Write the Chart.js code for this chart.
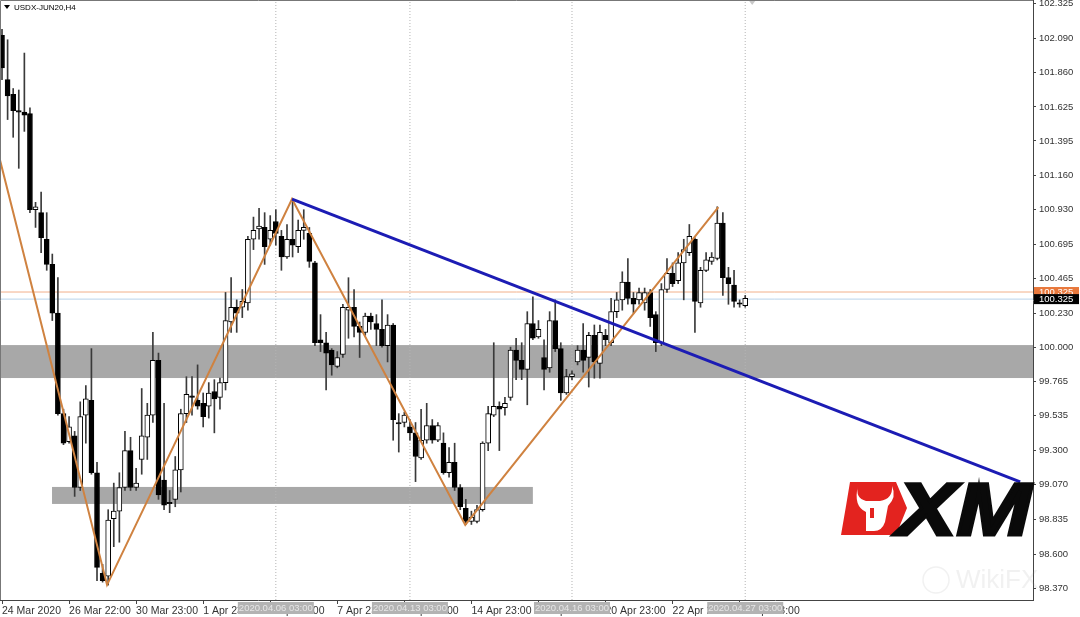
<!DOCTYPE html>
<html>
<head>
<meta charset="utf-8">
<script src="https://cdn.jsdelivr.net/npm/chart.js@4.4.1/dist/chart.umd.min.js"></script>
<style>
  html, body { margin: 0; padding: 0; background: #fff; }
  canvas { display: block; }
</style>
</head>
<body>
<canvas id="c" width="1080" height="617"></canvas>
<script>
// USDX-JUN20, H4 candles (bar index 0 = 24 Mar 2020)
const opens = [
  102.11, 101.81, 101.71, 101.60, 101.59, 101.58, 100.93, 100.91, 100.73, 100.56,
  100.23, 99.55, 99.36, 99.40, 99.05, 99.54, 99.64, 99.15, 98.47, 98.45,
  98.84, 98.89, 99.05, 99.30, 99.05, 99.24, 99.39, 99.54, 99.91, 99.10,
  98.95, 98.97, 99.17, 99.55, 99.67, 99.64, 99.62, 99.60, 99.70, 99.66,
  99.76, 100.17, 100.27, 100.27, 100.30, 100.73, 100.80, 100.81, 100.73, 100.85,
  100.75, 100.61, 100.73, 100.68, 100.79, 100.77, 100.57, 100.05, 100.03, 99.98,
  99.87, 99.95, 100.25, 100.27, 100.14, 100.10, 100.21, 100.16, 100.12, 100.01,
  100.15, 99.49, 99.49, 99.46, 99.42, 99.25, 99.37, 99.47, 99.37, 99.35,
  99.15, 99.22, 99.05, 98.91, 98.82, 98.82, 98.90, 99.35, 99.54, 99.60,
  99.59, 99.66, 99.98, 99.91, 99.85, 100.16, 100.07, 99.93, 99.86, 100.18,
  99.99, 99.69, 99.80, 99.90, 99.98, 99.93, 100.08, 99.89, 100.08, 100.03,
  100.24, 100.32, 100.44, 100.33, 100.32, 100.30, 100.37, 100.22, 100.03, 100.39,
  100.50, 100.45, 100.57, 100.64, 100.73, 100.30, 100.52, 100.58, 100.60, 100.84,
  100.47, 100.42, 100.30, 100.28
];
const highs = [
  102.15, 102.08, 101.75, 101.74, 101.99, 101.62, 100.98, 101.05, 100.91, 100.63,
  100.47, 99.58, 99.53, 99.43, 99.63, 99.74, 99.99, 99.22, 98.53, 98.90,
  99.08, 99.15, 99.43, 99.39, 99.18, 99.72, 99.62, 100.10, 99.96, 99.62,
  99.03, 99.26, 99.58, 99.80, 99.80, 99.88, 99.69, 99.76, 99.78, 99.79,
  100.37, 100.47, 100.32, 100.39, 100.75, 100.88, 100.94, 100.91, 100.89, 100.93,
  100.79, 100.83, 101.00, 100.86, 100.93, 100.81, 100.58, 100.22, 100.10, 99.99,
  99.97, 100.29, 100.47, 100.39, 100.17, 100.23, 100.23, 100.22, 100.32, 100.22,
  100.16, 99.55, 99.56, 99.51, 99.49, 99.58, 99.62, 99.51, 99.49, 99.42,
  99.32, 99.35, 99.07, 98.97, 98.89, 98.93, 99.36, 99.60, 100.03, 99.63,
  99.66, 100.00, 100.06, 100.03, 100.24, 100.34, 100.18, 100.05, 100.24, 100.32,
  100.03, 99.85, 99.84, 100.01, 100.16, 100.10, 100.15, 100.15, 100.12, 100.33,
  100.37, 100.51, 100.60, 100.37, 100.40, 100.40, 100.39, 100.24, 100.43, 100.60,
  100.57, 100.64, 100.73, 100.83, 100.74, 100.54, 100.64, 100.64, 100.95, 100.91,
  100.54, 100.52, 100.32, 100.35
];
const lows = [
  101.81, 101.54, 101.42, 101.21, 101.46, 100.91, 100.81, 100.64, 100.52, 100.18,
  99.54, 99.34, 99.35, 98.99, 99.03, 99.35, 99.14, 98.42, 98.41, 98.39,
  98.65, 98.68, 99.03, 99.03, 99.03, 99.14, 99.24, 99.49, 98.97, 98.90,
  98.88, 98.92, 99.02, 99.49, 99.54, 99.58, 99.46, 99.52, 99.42, 99.58,
  99.71, 100.10, 100.10, 100.20, 100.25, 100.66, 100.73, 100.56, 100.69, 100.69,
  100.52, 100.60, 100.61, 100.64, 100.73, 100.54, 100.01, 99.97, 99.71, 99.81,
  99.86, 99.93, 100.06, 100.07, 99.93, 100.08, 100.12, 100.01, 100.00, 99.90,
  99.37, 99.29, 99.46, 99.37, 99.09, 99.24, 99.35, 99.35, 99.36, 99.14,
  99.12, 99.03, 98.90, 98.80, 98.80, 98.81, 98.89, 99.30, 99.53, 99.30,
  99.54, 99.64, 99.78, 99.78, 99.61, 100.05, 100.06, 99.71, 99.83, 99.97,
  99.64, 99.68, 99.78, 99.88, 99.83, 99.73, 99.79, 99.79, 100.01, 100.01,
  100.20, 100.25, 100.29, 100.23, 100.29, 100.25, 100.14, 99.97, 100.01, 100.37,
  100.41, 100.43, 100.32, 100.62, 100.10, 100.27, 100.51, 100.56, 100.59, 100.35,
  100.29, 100.27, 100.27, 100.27
];
const closes = [
  101.89, 101.70, 101.60, 101.59, 101.57, 100.93, 100.95, 100.74, 100.56, 100.23,
  99.55, 99.35, 99.46, 99.05, 99.53, 99.65, 99.15, 98.51, 98.42, 98.83,
  98.89, 99.05, 99.30, 99.05, 99.08, 99.40, 99.54, 99.91, 99.00, 98.93,
  98.94, 99.17, 99.55, 99.68, 99.66, 99.60, 99.53, 99.69, 99.65, 99.76,
  100.18, 100.27, 100.23, 100.31, 100.73, 100.79, 100.82, 100.68, 100.79, 100.77,
  100.61, 100.73, 100.69, 100.79, 100.81, 100.58, 100.03, 100.03, 99.96, 99.88,
  99.93, 100.27, 100.27, 100.14, 100.10, 100.21, 100.17, 100.12, 100.01, 100.15,
  99.51, 99.48, 99.54, 99.42, 99.26, 99.37, 99.47, 99.37, 99.47, 99.15,
  99.22, 99.05, 98.92, 98.82, 98.85, 98.90, 99.35, 99.55, 99.60, 99.58,
  99.62, 99.98, 99.91, 99.85, 100.16, 100.06, 100.12, 99.85, 100.18, 99.99,
  99.69, 99.80, 99.82, 99.98, 99.91, 100.08, 99.90, 100.10, 100.05, 100.24,
  100.32, 100.44, 100.33, 100.29, 100.37, 100.37, 100.20, 100.03, 100.39, 100.50,
  100.43, 100.57, 100.66, 100.75, 100.31, 100.52, 100.59, 100.61, 100.84, 100.47,
  100.43, 100.31, 100.29, 100.33
];

// axes
const yTicks = [102.325, 102.090, 101.860, 101.625, 101.395, 101.160, 100.930, 100.695, 100.465,
  100.230, 100.000, 99.765, 99.535, 99.300, 99.070, 98.835, 98.600, 98.370];
const xTickIdx = [0, 12, 24, 36, 48, 60, 72, 84, 96, 108, 120, 132];
const xTickLabels = ['24 Mar 2020', '26 Mar 22:00', '30 Mar 23:00', '1 Apr 23:00', '3 Apr 23:00',
  '7 Apr 23:00', '9 Apr 23:00', '14 Apr 23:00', '16 Apr 23:00', '20 Apr 23:00', '22 Apr 23:00', '24 Apr 23:00'];
const yMin = 98.289, yMax = 102.349;
const xMin = -0.36, xMax = 184.5;

// drawings on the chart
const zigX = [-0.36, 18.8, 51.9, 82.9, 128.2];
const zigY = [101.266, 98.391, 101.002, 98.797, 100.948];
const trendX = [51.9, 182.2];
const trendY = [101.002, 99.088];
const zoneFrom = [-0.36, 8.95];
const zoneTo = [184.5, 95.0];
const zoneHigh = [100.014, 99.054];
const zoneLow = [99.791, 98.939];
const vLineIdx = [49, 73, 102, 133];
const vLineLabels = ['2020.04.06 03:00', '2020.04.13 03:00', '2020.04.16 03:00', '2020.04.27 03:00'];
const priceLevels = [100.373, 100.325];
const priceLabels = ['100.325', '100.325'];
const priceColors = ['#e8783c', '#000000'];
const levelLineColors = ['#f2b08a', '#b9d3ea'];

const FONT = '"Liberation Sans", Arial, sans-serif';

const wickData = highs.map((h, i) => ({ x: i, y: [lows[i], h] }));
const bodyData = opens.map((o, i) => ({ x: i, y: [o, closes[i]] }));

const datasets = [
  {
    type: 'line', order: 1,
    data: trendX.map((x, i) => ({ x: x, y: trendY[i] })),
    borderColor: '#1c1cb4', borderWidth: 3, pointRadius: 0, tension: 0
  },
  {
    type: 'line', order: 2,
    data: zigX.map((x, i) => ({ x: x, y: zigY[i] })),
    borderColor: '#cf8240', borderWidth: 2, pointRadius: 0, tension: 0
  },
  {
    type: 'bar', order: 4, grouped: false,
    data: bodyData,
    barThickness: 5, minBarLength: 1,
    backgroundColor: ctx => {
      const i = ctx.dataIndex;
      return closes[i] >= opens[i] ? '#ffffff' : '#000000';
    },
    borderColor: '#000000', borderWidth: 1, borderSkipped: false
  },
  {
    type: 'bar', order: 5, grouped: false,
    data: wickData,
    barThickness: 1,
    backgroundColor: '#3a3a3a', borderWidth: 0
  }
];

priceLevels.forEach((lv, k) => {
  datasets.push({
    type: 'line', order: 6,
    data: [{ x: xMin, y: lv }, { x: xMax, y: lv }],
    borderColor: levelLineColors[k], borderWidth: 1, pointRadius: 0
  });
});
vLineIdx.forEach(idx => {
  datasets.push({
    type: 'line', order: 7,
    data: [{ x: idx, y: yMin }, { x: idx, y: yMax }],
    borderColor: '#b4b4b4', borderWidth: 1, borderDash: [1, 2], pointRadius: 0
  });
});

const decor = {
  id: 'decor',
  beforeDatasetsDraw(chart) {
    const { ctx, chartArea: a, scales: { x, y } } = chart;
    ctx.save();
    ctx.beginPath();
    ctx.rect(a.left, a.top, a.width, a.height);
    ctx.clip();
    ctx.fillStyle = '#a8a8a8';
    zoneFrom.forEach((f, k) => {
      const x0 = x.getPixelForValue(f), x1 = x.getPixelForValue(zoneTo[k]);
      const y0 = y.getPixelForValue(zoneHigh[k]), y1 = y.getPixelForValue(zoneLow[k]);
      ctx.fillRect(x0, y0, x1 - x0, y1 - y0);
    });
    ctx.restore();
  },
  afterDraw(chart) {
    const { ctx, chartArea: a, scales: { x, y } } = chart;
    ctx.save();

    // frame (left + top)
    ctx.strokeStyle = '#777';
    ctx.lineWidth = 1;
    ctx.beginPath();
    ctx.moveTo(a.left + 0.5, a.bottom);
    ctx.lineTo(a.left + 0.5, a.top + 0.5);
    ctx.lineTo(a.right, a.top + 0.5);
    ctx.stroke();

    // title
    ctx.fillStyle = '#000';
    ctx.beginPath();
    ctx.moveTo(4, 5); ctx.lineTo(10, 5); ctx.lineTo(7, 9); ctx.closePath();
    ctx.fill();
    ctx.font = '8px ' + FONT;
    ctx.textBaseline = 'middle';
    ctx.textAlign = 'left';
    ctx.fillText('USDX-JUN20,H4', 14, 7.5);

    // small marker at top of last bar
    ctx.fillStyle = '#c8c8c8';
    ctx.beginPath();
    const mx = x.getPixelForValue(vLineIdx[vLineIdx.length - 1]) + 7;
    ctx.moveTo(mx - 3, 1); ctx.lineTo(mx + 3, 1); ctx.lineTo(mx, 5); ctx.closePath();
    ctx.fill();

    // price labels on the right axis
    ctx.font = '9.5px ' + FONT;
    priceLevels.forEach((lv, k) => {
      const py = y.getPixelForValue(lv);
      ctx.fillStyle = priceColors[k];
      ctx.fillRect(a.right + 1, py - 5, 45, 10);
      ctx.fillStyle = '#fff';
      ctx.fillText(priceLabels[k], a.right + 6, py + 0.5);
    });

    // vertical line date labels on the time axis
    ctx.font = '9.5px ' + FONT;
    ctx.textAlign = 'center';
    vLineIdx.forEach((idx, k) => {
      const px = x.getPixelForValue(idx);
      ctx.fillStyle = '#b3b3b3';
      ctx.fillRect(px - 38, a.bottom + 2, 76, 12);
      ctx.fillStyle = '#e6e6e6';
      ctx.fillText(vLineLabels[k], px, a.bottom + 8.5);
    });

    // XM logo
    ctx.fillStyle = '#e3231f';
    ctx.beginPath();
    ctx.moveTo(850, 482); ctx.lineTo(896, 482); ctx.lineTo(907, 508);
    ctx.lineTo(896, 535); ctx.lineTo(841, 535); ctx.lineTo(846, 506);
    ctx.closePath();
    ctx.fill();
    ctx.fillStyle = '#fff';
    ctx.beginPath();
    ctx.moveTo(858, 486);
    ctx.quadraticCurveTo(855, 498, 866, 501);
    ctx.lineTo(880, 501);
    ctx.quadraticCurveTo(893, 499, 892, 486);
    ctx.quadraticCurveTo(897, 497, 888, 506);
    ctx.lineTo(885, 522);
    ctx.quadraticCurveTo(882, 531, 874, 531);
    ctx.lineTo(866, 531);
    ctx.lineTo(866, 512);
    ctx.quadraticCurveTo(853, 506, 858, 486);
    ctx.closePath();
    ctx.fill();
    ctx.fillStyle = '#e3231f';
    ctx.fillRect(870, 508, 4, 10);

    ctx.font = 'italic bold 74px ' + FONT;
    ctx.textAlign = 'left';
    ctx.textBaseline = 'alphabetic';
    const w = ctx.measureText('XM').width;
    ctx.translate(897, 535);
    ctx.scale(134 / w, 1);
    ctx.fillStyle = '#0a0a0a';
    ctx.strokeStyle = '#0a0a0a';
    ctx.lineWidth = 3;
    ctx.lineJoin = 'miter';
    ctx.fillText('XM', 0, 0);
    ctx.strokeText('XM', 0, 0);
    ctx.restore();

    // faint watermark
    ctx.save();
    ctx.globalAlpha = 0.12;
    ctx.strokeStyle = '#888';
    ctx.lineWidth = 1.5;
    ctx.beginPath();
    ctx.arc(936, 580, 13, 0, Math.PI * 2);
    ctx.stroke();
    ctx.fillStyle = '#888';
    ctx.font = '26px ' + FONT;
    ctx.textBaseline = 'middle';
    ctx.fillText('WikiFX', 956, 581);
    ctx.restore();
  }
};

new Chart(document.getElementById('c'), {
  type: 'bar',
  data: { datasets: datasets },
  options: {
    responsive: false,
    animation: false,
    devicePixelRatio: 1,
    layout: { padding: 0 },
    plugins: { legend: { display: false }, tooltip: { enabled: false } },
    scales: {
      x: {
        type: 'linear', min: xMin, max: xMax, bounds: 'data', offset: false,
        afterBuildTicks: s => { s.ticks = xTickIdx.map(v => ({ value: v })); },
        afterFit: s => { s.height = 17; s.paddingLeft = 0; s.paddingRight = 0; },
        ticks: {
          autoSkip: false, maxRotation: 0, align: 'start', padding: 1,
          font: { size: 10.5, family: FONT }, color: '#333',
          callback: (v, i) => xTickLabels[i]
        },
        grid: { drawOnChartArea: false, offset: false, tickLength: 4, color: '#444' },
        border: { color: '#444' }
      },
      y: {
        type: 'linear', position: 'right', min: yMin, max: yMax, bounds: 'data',
        afterBuildTicks: s => { s.ticks = yTicks.map(v => ({ value: v })); },
        afterFit: s => { s.width = 47; s.paddingTop = 0; s.paddingBottom = 0; },
        ticks: {
          autoSkip: false, padding: 3,
          font: { size: 9.5, family: FONT }, color: '#333',
          callback: v => v.toFixed(3)
        },
        grid: { drawOnChartArea: false, tickLength: 3, color: '#444' },
        border: { color: '#444' }
      }
    }
  },
  plugins: [decor]
});
</script>
</body>
</html>
